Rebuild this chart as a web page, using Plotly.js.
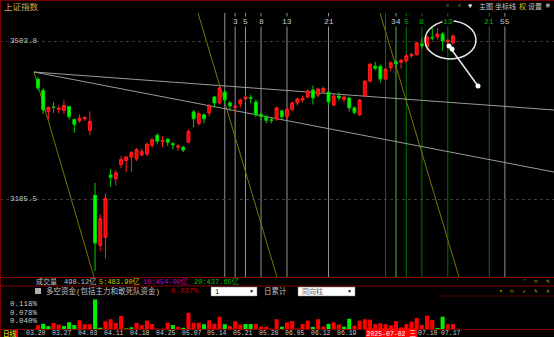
<!DOCTYPE html>
<html><head><meta charset="utf-8">
<script src="https://cdn.plot.ly/plotly-3.0.1.min.js"></script>
<style>html,body{margin:0;padding:0;background:#000;overflow:hidden}#c{width:554px;height:337px}</style>
</head><body><div id="c"></div>
<script>
// ---------------- DATA ----------------
const dates = ['03.20','03.21','03.24','03.25','03.26','03.27','03.28','03.31','04.01','04.02','04.03','04.07','04.08','04.09','04.10','04.11','04.14','04.15','04.16','04.17','04.18','04.21','04.22','04.23','04.24','04.25','04.28','04.29','04.30','05.06','05.07','05.08','05.09','05.12','05.13','05.14','05.15','05.16','05.19','05.20','05.21','05.22','05.23','05.26','05.27','05.28','05.29','05.30','06.03','06.04','06.05','06.06','06.09','06.10','06.11','06.12','06.13','06.16','06.17','06.18','06.19','06.20','06.23','06.24','06.25','06.26','06.27','06.30','07.01','07.02','07.03','07.04','07.07','07.08','07.09','07.10','07.11','07.14','07.15','07.16','07.17'];
const openP  = [3427,3404,3362,3371,3366,3364,3372,3346,3343,3347,3324,3193,3092,3108,3234,3226,3255,3263,3270,3266,3274,3276,3294,3314,3301,3306,3297,3290,3290,3300,3361,3338,3355,3359,3391,3379,3401,3379,3370,3377,3387,3390,3381,3356,3350,3345,3347,3363,3352,3366,3379,3385,3391,3405,3395,3402,3401,3375,3393,3386,3389,3369,3355,3393,3423,3453,3453,3427,3450,3462,3461,3464,3474,3476,3498,3492,3511,3512,3518,3503,3500];
const highP  = [3431,3409,3372,3381,3374,3384,3372,3347,3356,3352,3362,3218,3155,3197,3246,3244,3272,3272,3282,3288,3287,3299,3308,3318,3312,3308,3300,3296,3293,3325,3365,3362,3358,3377,3393,3417,3405,3383,3376,3388,3395,3396,3386,3360,3354,3350,3372,3366,3369,3382,3389,3394,3406,3414,3410,3412,3403,3396,3400,3396,3391,3372,3387,3426,3460,3462,3456,3449,3463,3466,3468,3478,3480,3502,3510,3514,3530,3530,3522,3509,3517];
const lowP   = [3404,3357,3346,3359,3358,3357,3346,3319,3339,3343,3314,3040.69,3080,3066,3210,3213,3248,3240,3240,3262,3272,3272,3288,3296,3290,3292,3285,3282,3280,3298,3330,3333,3338,3352,3370,3376,3378,3362,3355,3370,3380,3378,3350,3344,3338,3338,3343,3345,3345,3362,3374,3380,3388,3376,3390,3397,3374,3372,3384,3380,3362,3356,3353,3392,3420,3445,3420,3425,3443,3450,3448,3460,3470,3475,3489,3485,3505,3507,3484,3494,3496];
const closeP = [3408.95,3364.83,3370.03,3369.98,3368.01,3373.75,3351.31,3336,3348.44,3350.13,3342.01,3096.58,3145.55,3186.81,3229,3238.23,3265,3270,3279,3285,3281,3296,3305,3302,3303,3300,3295,3292,3284,3322,3347,3357,3347,3373,3379,3409,3385,3373,3372,3385,3391,3388,3355,3352,3344,3344,3369,3351,3366,3379,3387,3388,3403,3389,3407,3408,3381,3393,3389,3391,3369,3360,3385,3423,3457,3449,3427,3447,3460,3458,3465,3474,3477,3500,3494,3512,3510,3518,3504,3505,3514];
// 多空资金 (%), negative = green bar
const flowPct = [0.018,-0.025,-0.014,0.029,0.021,-0.014,-0.032,-0.019,0.042,0.023,0.023,-0.142,-0.006,0.037,0.047,0.029,0.062,-0.003,-0.008,0.030,0.018,0.040,0.024,0.002,0.002,0.030,-0.019,0.011,-0.006,0.078,0.030,0.030,-0.023,0.042,0.025,0.059,-0.023,0.014,0.037,0.021,-0.024,-0.024,0.025,0.011,0.011,0.002,0.047,-0.011,0.032,0.038,0.002,0.024,0.040,-0.010,0.047,0.011,-0.024,0.032,0.021,-0.011,-0.049,0.016,0.040,0.047,0.045,0.023,0.027,0.023,0.018,0.038,0.008,0.024,0.035,0.053,0.019,0.064,0.043,-0.005,-0.059,0.023,0.024];
const priceTicks = [3185.5, 3503.8];
const flowTicks = [0.040, 0.078, 0.118];
const dateTickLabels = ['03.20','03.27','04.03','04.11','04.18','04.25','05.07','05.14','05.21','05.28','06.05','06.12','06.19','07.10','07.17'];
const fibGrayOrigin = 35, fibGray = [1,3,5,8,13,21,34,55], fibGrayLabels = ['','3','5','8','13','21','34','55'];
const fibGreenOrigin = 66, fibGreen = [1,3,5,8,13,21], fibGreenLabels = ['','','5','8','13','21'];
const selectedDateIdx = 69, selectedDateText = '2025-07-02 三';
const volInfo = ['成交量','498.12亿','5:483.90亿','10:454.00亿','20:437.65亿'];
const flowInfo = ['多空资金(包括主力和敢死队资金)','0.037%'];

// ---------------- GEOMETRY ----------------
const W=554, H=337;
const PXI = 5.1875, X0 = 38;              // px per bar, px of first bar
const X = px => px/W, Y = py => 1 - py/H;
const PPP = 2.01456;                       // price per px
const priceAt = py => 3503.8 - (py-41)*PPP;
const idxAt = px => (px - X0)/PXI;
const FPP = 0.0048;
const xRange = [idxAt(0), idxAt(W)];
const idx = dates.map((d,i)=>i);

const mono = 'Liberation Mono, DejaVu Sans Mono, Noto Sans CJK SC, monospace';
const cjk = 'Noto Sans CJK SC, Liberation Sans, sans-serif';

const traces = [
  {type:'candlestick', x:idx, open:openP, high:highP, low:lowP, close:closeP, xaxis:'x', yaxis:'y',
   increasing:{line:{color:'#ff2020',width:1}, fillcolor:'#ff0000'},
   decreasing:{line:{color:'#00d000',width:1}, fillcolor:'#00ff00'},
   whiskerwidth:0, hoverinfo:'skip'},
  {type:'bar', x:idx, y:flowPct.map(Math.abs), xaxis:'x2', yaxis:'y2',
   marker:{color:flowPct.map(v=>v<0?'#00ee00':'#ff0000'), line:{width:0}}, hoverinfo:'skip'}
];

const shapes = [];
const ann = [];
const line = (x0,y0,x1,y1,color,w,extra) => shapes.push(Object.assign({type:'line',xref:'paper',yref:'paper',x0:X(x0),y0:Y(y0),x1:X(x1),y1:Y(y1),line:{color:color,width:w}},extra||{}));

// Fibonacci time lines
fibGray.forEach((f,k)=>{
  shapes.push({type:'line',layer:'below',xref:'x',yref:'paper',x0:fibGrayOrigin+f,x1:fibGrayOrigin+f,y0:Y(277),y1:Y(13),line:{color:'#909090',width:1}});
});
fibGreen.forEach((f,k)=>{
  shapes.push({type:'line',layer:'below',xref:'x',yref:'paper',x0:fibGreenOrigin+f,x1:fibGreenOrigin+f,y0:Y(277),y1:Y(13),line:{color:'#007800',width:1}});
});
fibGreen.forEach((f,k)=>{ if(fibGreenLabels[k]) ann.push({xref:'x',yref:'paper',x:fibGreenOrigin+f,y:Y(16.5),text:fibGreenLabels[k],showarrow:false,bgcolor:'#000',borderpad:0,font:{family:mono,size:8,color:'#00b000'}}); });
fibGray.forEach((f,k)=>{ if(fibGrayLabels[k]) ann.push({xref:'x',yref:'paper',x:fibGrayOrigin+f,y:Y(16.5),text:fibGrayLabels[k],showarrow:false,bgcolor:'#000',borderpad:0,font:{family:mono,size:8,color:'#c8c8c8'}}); });

// speed / trend lines (drawing tools, in data space)
const d = (px,py) => [idxAt(px), priceAt(py)];
[[d(34,72),d(94,277)],[d(198,13),d(277,277)],[d(380,13),d(459,277)]].forEach(s=>{
  shapes.push({type:'line',layer:'below',xref:'x',yref:'y',x0:s[0][0],y0:s[0][1],x1:s[1][0],y1:s[1][1],line:{color:'#767600',width:1}});
});
[[d(34,72),d(554,110)],[d(34,72),d(554,172)]].forEach(s=>{
  shapes.push({type:'line',layer:'below',xref:'x',yref:'y',x0:s[0][0],y0:s[0][1],x1:s[1][0],y1:s[1][1],line:{color:'#9a9a9a',width:1}});
});
// ellipse + arrow
shapes.push({type:'circle',xref:'x',yref:'y',x0:idxAt(425),x1:idxAt(476),y0:priceAt(59),y1:priceAt(21),line:{color:'#e8e8e8',width:1.5}});
const tail = d(478,86), head = d(449,46), mid = d(452,49);
shapes.push({type:'line',xref:'x',yref:'y',x0:tail[0],y0:tail[1],x1:head[0],y1:head[1],line:{color:'#e8e8e8',width:1.5}});
[tail,head,mid].forEach(p=>shapes.push({type:'circle',xref:'x',yref:'y',xsizemode:'pixel',ysizemode:'pixel',xanchor:p[0],yanchor:p[1],x0:-2.5,x1:2.5,y0:-2.5,y1:2.5,fillcolor:'#ffffff',line:{width:0}}));

// frame lines
line(0,0.5,554,0.5,'#7a0000',1);
line(0.5,0,0.5,337,'#7a0000',1);
line(0,277.5,554,277.5,'#800000',1);
line(0,286,554,286,'#800000',1);
line(440,296,554,296,'#5a0000',1);
line(0,329.5,554,329.5,'#800000',1);

// header + toolbar
const txt = (x,y,t,color,size,fam,extra) => ann.push(Object.assign({xref:'paper',yref:'paper',x:X(x),y:Y(y),text:t,showarrow:false,xanchor:'left',yanchor:'middle',borderpad:0,font:{family:fam||mono,size:size||8,color:color}},extra||{}));
txt(3,6,'上证指数','#d4a84a',8.5,cjk);
txt(444,6,'▫','#c8c8c8',8); txt(456,6,'▫','#c8c8c8',8); txt(467,6,'♥','#e0e0e0',7);
txt(478,6,'主图','#c8c8c8',7,cjk); txt(494,6,'坐标线','#c8c8c8',7,cjk); txt(518,6,'权','#e0c000',7,cjk); txt(527,6,'设置','#c8c8c8',7,cjk); txt(545,6,'▣','#c8c8c8',6);

// price tick labels
priceTicks.forEach(v=>ann.push({xref:'paper',yref:'y',x:X(8),y:v,text:v.toFixed(1),showarrow:false,xanchor:'left',yanchor:'middle',font:{family:mono,size:7.5,color:'#c8c8c8'}}));
flowTicks.forEach(v=>ann.push({xref:'paper',yref:'y2',x:X(8),y:v,text:v.toFixed(3)+'%',showarrow:false,xanchor:'left',yanchor:'middle',font:{family:mono,size:7.5,color:'#c8c8c8'}}));

// info row 1
const volColors = ['#c0c0c0','#c0c0c0','#c8c800','#c000c0','#00c000'];
const volX = [35,63,98,142,193];
volInfo.forEach((t,k)=>txt(volX[k],281.5,t,volColors[k],7));
// info row 2
shapes.push({type:'rect',xref:'paper',yref:'paper',x0:X(35),x1:X(41),y0:Y(294),y1:Y(288),fillcolor:'#b0b0b0',line:{width:0}});
txt(45,291,flowInfo[0],'#c0c0c0',7.5);
txt(170,291,flowInfo[1],'#c00000',7.5);
shapes.push({type:'rect',xref:'paper',yref:'paper',x0:X(211),x1:X(257),y0:Y(296),y1:Y(287),fillcolor:'#ffffff',line:{color:'#808080',width:0.5}});
txt(214,291.5,'1','#000000',7); txt(249,291.5,'▼','#000000',5);
txt(263,291,'日累计','#c0c0c0',7.5);
shapes.push({type:'rect',xref:'paper',yref:'paper',x0:X(298),x1:X(355),y0:Y(296),y1:Y(287),fillcolor:'#ffffff',line:{color:'#808080',width:0.5}});
txt(301,291.5,'同向柱','#606060',7); txt(347,291.5,'▼','#000000',5);
// right-side small icons
[['♡',522],['▭',533],['✎',545]].forEach(a=>txt(a[1],281.5,a[0],'#c8a000',6));
[['▾',498],['▭',509],['↗',521],['✎',533],['✕',545]].forEach(a=>txt(a[1],291.5,a[0],'#c8a000',6));

// date axis
const DATE_Y = 333;
const boxX = selectedDateIdx - 0.9;   // selected-date box centre (bars)
const clearX = boxX + 7.0;            // first label centre allowed right of the box
dateTickLabels.forEach(t=>{
  const i = dates.indexOf(t);
  let xi = i - 0.4;
  if (i > selectedDateIdx && xi < clearX) xi = clearX;
  ann.push({xref:'x',yref:'paper',x:xi,y:Y(DATE_Y),text:t,showarrow:false,xanchor:'center',yanchor:'middle',font:{family:mono,size:6.5,color:'#c8c8c8'}});
});
ann.push({xref:'x',yref:'paper',x:boxX,y:Y(DATE_Y),text:selectedDateText,showarrow:false,xanchor:'center',yanchor:'middle',bgcolor:'#ff0000',borderpad:0.5,font:{family:mono,size:6.5,color:'#ffffff'}});
txt(1.5,DATE_Y,'日线','#ffff00',6.5,cjk);
shapes.push({type:'rect',xref:'paper',yref:'paper',x0:X(15),x1:X(18),y0:Y(337),y1:Y(330),fillcolor:'#ff0000',line:{width:0}});

const layout = {
  width:W, height:H, margin:{l:0,r:0,t:0,b:0},
  paper_bgcolor:'#000', plot_bgcolor:'#000', showlegend:false, hovermode:false,
  boxgap:0.2, bargap:0.22,
  xaxis:{domain:[0,1], range:xRange, anchor:'y', showgrid:false, zeroline:false, showticklabels:false, ticks:'', showline:false, rangeslider:{visible:false}},
  yaxis:{domain:[Y(277),Y(12)], range:[priceAt(277),priceAt(12)], tickvals:priceTicks, showticklabels:false, ticks:'', showgrid:true, gridcolor:'#3a3a3a', griddash:'dot', gridwidth:1, zeroline:false, showline:false},
  xaxis2:{domain:[0,1], range:xRange, anchor:'y2', showgrid:false, zeroline:false, showticklabels:false, ticks:'', showline:false},
  yaxis2:{domain:[Y(329),Y(297)], range:[0,32*FPP], showgrid:false, zeroline:false, showticklabels:false, ticks:'', showline:false},
  shapes:shapes, annotations:ann
};
Plotly.newPlot('c', traces, layout, {staticPlot:true, displayModeBar:false});
</script></body></html>
